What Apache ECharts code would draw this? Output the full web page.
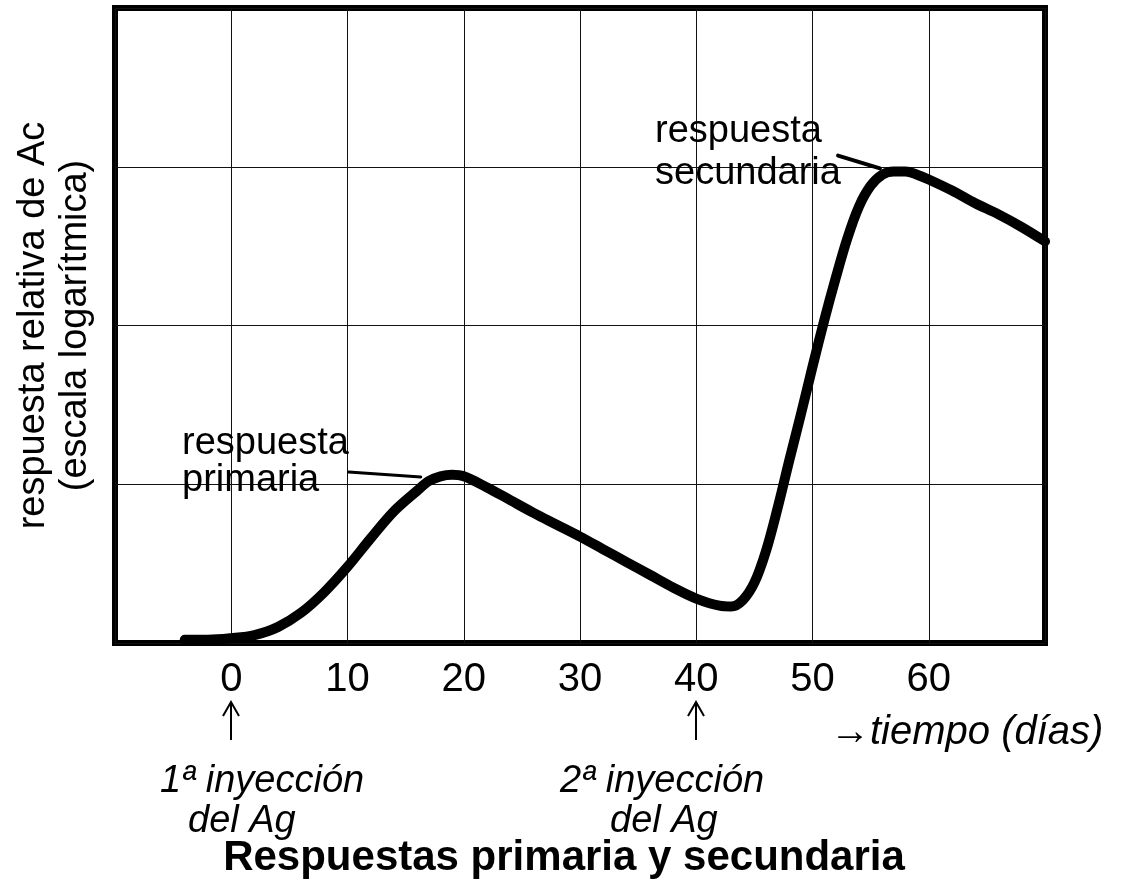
<!DOCTYPE html>
<html>
<head>
<meta charset="utf-8">
<title>Respuestas primaria y secundaria</title>
<script src="https://cdn.jsdelivr.net/npm/echarts@6/dist/echarts.min.js"></script>
<style>
  html, body { margin: 0; padding: 0; background: #fff; }
  #chart { width: 1128px; height: 886px; }
</style>
</head>
<body>
<div id="chart"></div>
<script>
// Time after the first antigen injection (days)
const dias = [-4, -2, 0, 2, 4, 6, 8, 10, 12, 14, 16, 17, 18, 19, 20, 22, 24, 26, 28, 30,
              32, 34, 36, 38, 40, 42, 43, 44, 45, 46, 47, 48, 49, 50, 51, 52, 53,
              54, 55, 56, 57, 58, 59, 60, 62, 64, 66, 68, 70];
// Relative antibody response (log scale, one unit per grid row)
const respuesta = [0.02, 0.02, 0.03, 0.05, 0.10, 0.19, 0.32, 0.48, 0.66, 0.83, 0.96, 1.02, 1.05, 1.06, 1.05, 0.98, 0.90, 0.82, 0.745, 0.67,
                   0.59, 0.51, 0.43, 0.35, 0.28, 0.235, 0.23, 0.27, 0.38, 0.58, 0.85, 1.15, 1.44, 1.74, 2.03, 2.30, 2.55,
                   2.75, 2.88, 2.95, 2.97, 2.97, 2.95, 2.92, 2.85, 2.77, 2.70, 2.62, 2.53];

// Short leader strokes joining each caption to its peak
const guiaPrimaria = [[10.1, 1.077], [16.3, 1.046]];
const guiaSecundaria = [[52.2, 3.07], [55.8, 2.99]];

// Days on which the antigen is injected (marked with an arrow under the axis)
const inyecciones = [0, 40];

// Axis tick labels (days)
const etiquetasX = ['0', '10', '20', '30', '40', '50', '60'];

const FONT = '"Liberation Sans", Arial, Helvetica, sans-serif';

const chart = echarts.init(document.getElementById('chart'), null, { renderer: 'canvas' });

function txt(text, x, y, size, style, align) {
  return {
    type: 'text',
    x: x,
    y: y,
    style: {
      text: text,
      font: (style || '') + ' ' + size + 'px ' + FONT,
      fill: '#000',
      textAlign: align || 'left',
      textVerticalAlign: 'middle'
    }
  };
}

const option = {
  animation: false,
  backgroundColor: '#fff',
  grid: {
    left: 115, right: 83, top: 8, bottom: 243,
    show: true,
    borderColor: '#000',
    borderWidth: 6,
    backgroundColor: 'transparent'
  },
  xAxis: {
    type: 'value',
    min: -10, max: 70, interval: 10,
    axisLine: { show: false },
    axisTick: { show: false },
    splitLine: { show: true, lineStyle: { color: '#111', width: 1 } },
    axisLabel: {
      margin: 17,
      fontSize: 40,
      fontFamily: FONT,
      color: '#000',
      formatter: function (v) {
        const s = String(v);
        return etiquetasX.indexOf(s) >= 0 ? s : '';
      }
    }
  },
  yAxis: {
    type: 'value',
    min: 0, max: 4, interval: 1,
    axisLine: { show: false },
    axisTick: { show: false },
    axisLabel: { show: false },
    splitLine: { show: true, lineStyle: { color: '#111', width: 1 } },
    name: 'respuesta relativa de Ac\n(escala logarítmica)',
    nameLocation: 'middle',
    nameRotate: 90,
    nameGap: 18,
    nameTextStyle: { fontSize: 38, lineHeight: 42, fontFamily: FONT, color: '#000' }
  },
  series: [
    {
      type: 'line',
      data: dias.map((d, i) => [d, respuesta[i]]),
      smooth: 0.35,
      showSymbol: false,
      lineStyle: { color: '#000', width: 10, cap: 'round', join: 'round' },
      z: 5
    },
    {
      type: 'line',
      data: guiaPrimaria,
      showSymbol: false,
      lineStyle: { color: '#000', width: 3, cap: 'round' },
      z: 4
    },
    {
      type: 'line',
      data: guiaSecundaria,
      showSymbol: false,
      lineStyle: { color: '#000', width: 4, cap: 'round' },
      z: 4
    }
  ]
};
chart.setOption(option);

// Arrows under the axis at each injection day, placed through the x scale
const flechas = [];
inyecciones.forEach(function (d) {
  const x = Math.round(chart.convertToPixel({ gridIndex: 0 }, [d, 0])[0]);
  flechas.push({
    type: 'line',
    shape: { x1: x, y1: 702, x2: x, y2: 740 },
    style: { stroke: '#000', lineWidth: 2 }
  });
  flechas.push({
    type: 'polyline',
    shape: { points: [[x - 8, 716], [x, 702], [x + 8, 716]] },
    style: { stroke: '#000', lineWidth: 2, fill: null }
  });
});

chart.setOption({
  graphic: flechas.concat([
    txt('respuesta', 182, 444, 38),
    txt('primaria', 182, 481, 38),
    txt('respuesta', 655, 132, 38),
    txt('secundaria', 655, 174, 38),
    txt('\u2192tiempo (días)', 830, 733, 40, 'italic'),
    txt('1ª inyección', 160, 781, 38, 'italic'),
    txt('del Ag', 188, 821, 38, 'italic'),
    txt('2ª inyección', 560, 781, 38, 'italic'),
    txt('del Ag', 610, 821, 38, 'italic'),
    txt('Respuestas primaria y secundaria', 564, 858, 42, 'bold', 'center')
  ])
});
</script>
</body>
</html>
